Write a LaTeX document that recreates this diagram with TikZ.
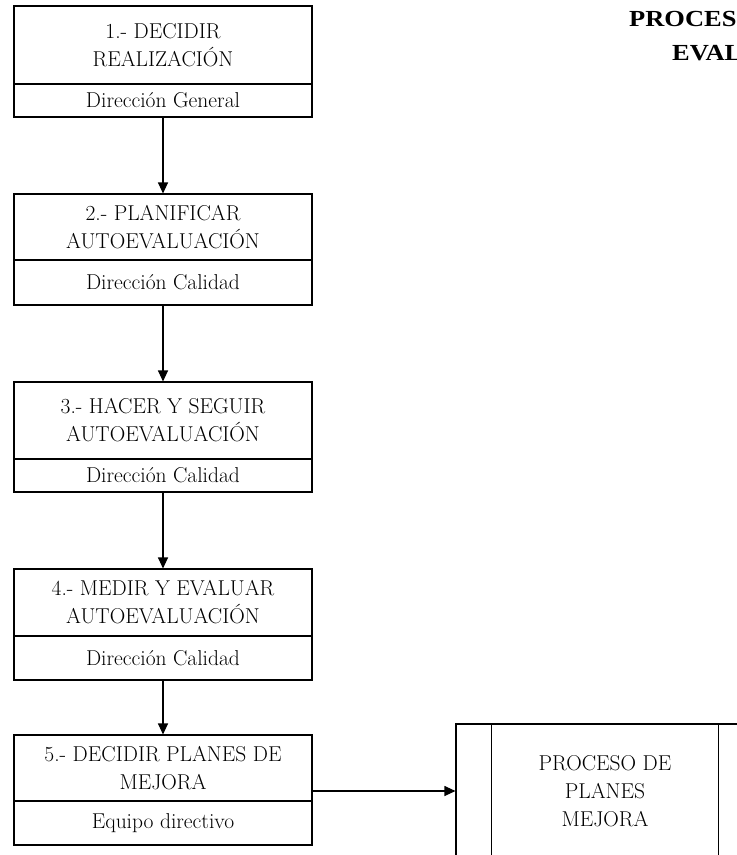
\documentclass[tikz,border=0pt]{standalone}
\usepackage{graphicx}
\usepackage{fontspec}
\newfontfamily\titlefont{Liberation Serif}
\usetikzlibrary{arrows.meta}

\begin{document}
\begin{tikzpicture}[x=1pt, y=-1pt]
  \useasboundingbox (0,0) rectangle (737,855);
  \clip (0,0) rectangle (737,855);

  \tikzstyle{task}=[draw, line width=1.1pt, minimum width=298pt, inner sep=0pt, align=center, font=\fontsize{21.5}{28}\selectfont]
  \tikzstyle{role}=[task]
  \tikzstyle{flow}=[line width=1.1pt, -{Triangle[length=11pt, width=10pt]}]
  \tikzstyle{heading}=[anchor=base west, inner sep=0pt, font=\titlefont\bfseries\fontsize{23}{34}\selectfont]

  \node[heading] (head1) at (629, 26) {\scalebox{1.15}[1]{PROCES}};
  \node[heading] (head2) at (672, 60) {\scalebox{1.15}[1]{EVAL}};

  \node[task, minimum height=78pt] (t1) at (163, 45) {1.- DECIDIR\\REALIZACIÓN};
  \node[role, minimum height=33pt] (r1) at (163, 100.5) {Dirección General};
  \node[task, minimum height=66pt] (t2) at (163, 227) {2.- PLANIFICAR\\AUTOEVALUACIÓN};
  \node[role, minimum height=45pt] (r2) at (163, 282.5) {Dirección Calidad};
  \node[task, minimum height=77pt] (t3) at (163, 420.5) {3.- HACER Y SEGUIR\\AUTOEVALUACIÓN};
  \node[role, minimum height=33pt] (r3) at (163, 475.5) {Dirección Calidad};
  \node[task, minimum height=67pt] (t4) at (163, 602.5) {4.- MEDIR Y EVALUAR\\AUTOEVALUACIÓN};
  \node[role, minimum height=44pt] (r4) at (163, 658) {Dirección Calidad};
  \node[task, minimum height=66pt] (t5) at (163, 768) {5.- DECIDIR PLANES DE\\MEJORA};
  \node[role, minimum height=44pt] (r5) at (163, 823) {Equipo directivo};

  \node[task, minimum height=134pt] (sub) at (605, 791) {PROCESO DE\\PLANES\\MEJORA};
  \draw[line width=1.1pt] ([xshift=36pt]sub.north west) -- ([xshift=36pt]sub.south west);
  \draw[line width=1.1pt] ([xshift=-36pt]sub.north east) -- ([xshift=-36pt]sub.south east);

  \draw[flow] (r1) -- (t2);
  \draw[flow] (r2) -- (t3);
  \draw[flow] (r3) -- (t4);
  \draw[flow] (r4) -- (t5);
  \draw[flow] (t5.east |- sub.west) -- (sub.west);
\end{tikzpicture}
\end{document}
